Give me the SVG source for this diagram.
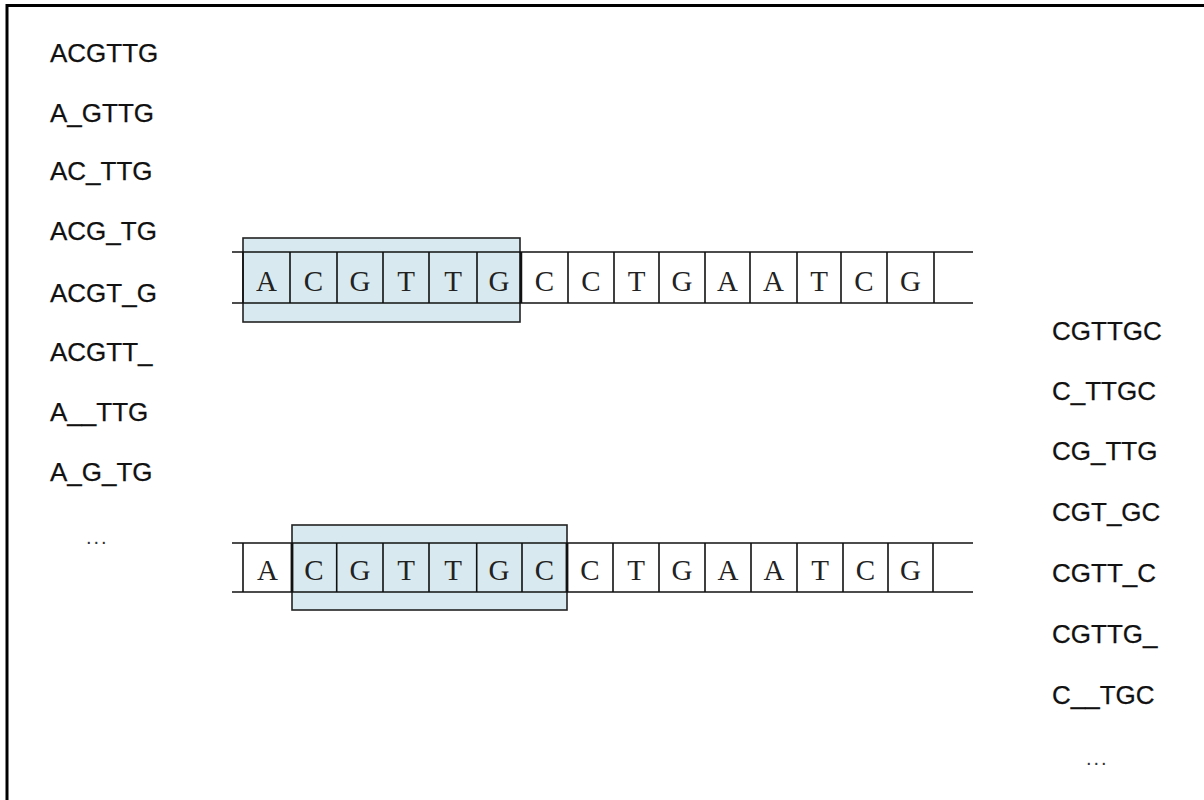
<svg xmlns="http://www.w3.org/2000/svg" width="1204" height="800" viewBox="0 0 1204 800">
<style>
.lbl{font-family:"Liberation Sans",Arial,sans-serif;font-size:26px;fill:#111;stroke:#111;stroke-width:0.25}
.dots{font-family:"Liberation Sans",Arial,sans-serif;font-size:20px;fill:#333;letter-spacing:2px}
.base{font-family:"Liberation Serif","Times New Roman",serif;font-size:29px;fill:#222;text-anchor:middle}
.ln{stroke:#111;stroke-width:1.6;fill:none}
.hl{fill:#d8eaef;stroke:#222;stroke-width:1.6}
</style>
<rect width="1204" height="800" fill="#fff"/>
<path d="M7,800 V5.5 H1204" fill="none" stroke="#000" stroke-width="3"/>

<g id="left-list" class="lbl">
<text x="50" y="62">ACGTTG</text>
<text x="50" y="121.5">A_GTTG</text>
<text x="50" y="180">AC_TTG</text>
<text x="50" y="239.5">ACG_TG</text>
<text x="50" y="302">ACGT_G</text>
<text x="50" y="361">ACGTT_</text>
<text x="50" y="421">A__TTG</text>
<text x="50" y="481">A_G_TG</text>
</g>
<text class="dots" x="86" y="544">...</text>

<g id="right-list" class="lbl">
<text x="1052" y="340">CGTTGC</text>
<text x="1052" y="400">C_TTGC</text>
<text x="1052" y="460">CG_TTG</text>
<text x="1052" y="521">CGT_GC</text>
<text x="1052" y="582">CGTT_C</text>
<text x="1052" y="643">CGTTG_</text>
<text x="1052" y="704">C__TGC</text>
</g>
<text class="dots" x="1086" y="765">...</text>

<g id="strand-top">
<rect class="hl" x="243" y="238" width="277" height="84"/>
<g class="ln">
<line x1="232" y1="252" x2="973" y2="252"/>
<line x1="232" y1="303" x2="973" y2="303"/>
<path d="M243,252V303M290,252V303M337,252V303M383,252V303M429,252V303M477,252V303M521,252V303M568,252V303M614,252V303M659,252V303M705,252V303M750,252V303M797,252V303M841,252V303M887,252V303M934,252V303"/>
</g>
<path d="M521,252V303" stroke="#111" stroke-width="2.5"/>
<g class="base">
<text x="266.5" y="291">A</text>
<text x="313.5" y="291">C</text>
<text x="360" y="291">G</text>
<text x="406" y="291">T</text>
<text x="453" y="291">T</text>
<text x="499" y="291">G</text>
<text x="544.5" y="291">C</text>
<text x="591" y="291">C</text>
<text x="636.5" y="291">T</text>
<text x="682" y="291">G</text>
<text x="727.5" y="291">A</text>
<text x="773.5" y="291">A</text>
<text x="819" y="291">T</text>
<text x="864" y="291">C</text>
<text x="910.5" y="291">G</text>
</g>
</g>

<g id="strand-bottom">
<rect class="hl" x="292" y="525" width="275" height="85"/>
<g class="ln">
<line x1="232" y1="543" x2="973" y2="543"/>
<line x1="232" y1="592" x2="973" y2="592"/>
<path d="M243,543V592M336.7,543V592M383,543V592M429,543V592M476.7,543V592M522,543V592M613,543V592M659,543V592M705,543V592M751,543V592M797,543V592M843,543V592M888,543V592M933,543V592"/>
</g>
<path d="M292,543V592M567,543V592" stroke="#111" stroke-width="2.8"/>
<g class="base">
<text x="267.5" y="580">A</text>
<text x="314" y="580">C</text>
<text x="360" y="580">G</text>
<text x="406" y="580">T</text>
<text x="453" y="580">T</text>
<text x="499" y="580">G</text>
<text x="544.5" y="580">C</text>
<text x="590" y="580">C</text>
<text x="636" y="580">T</text>
<text x="682" y="580">G</text>
<text x="728" y="580">A</text>
<text x="774" y="580">A</text>
<text x="820" y="580">T</text>
<text x="865.5" y="580">C</text>
<text x="910.5" y="580">G</text>
</g>
</g>
</svg>
